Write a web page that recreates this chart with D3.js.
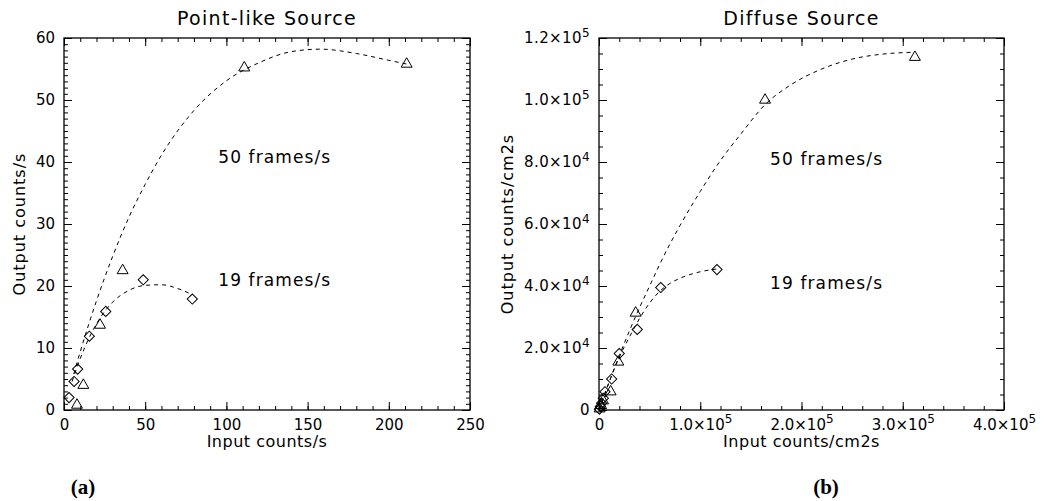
<!DOCTYPE html>
<html>
<head>
<meta charset="utf-8">
<script src="https://cdn.jsdelivr.net/npm/d3@7"></script>
<style>
  body { margin: 0; background: #fff; }
  text { font-family: "DejaVu Sans", sans-serif; fill: #000; }
</style>
</head>
<body>
<svg width="1041" height="501"></svg>
<script>
// ---- panel (a): point-like source, counts/s ----
const pointTri50 = [[8, 0.8], [11.9, 4.0], [22.2, 13.7], [36.1, 22.5], [111, 55.2], [211, 55.8]];
const pointDia19 = [[3.1, 2.0], [6.2, 4.6], [8.4, 6.6], [15.6, 11.9], [25.7, 15.9], [48.8, 21.0], [79, 17.9]];
// dashed fit curves
const pointFit50 = [[6, 5.8], [10, 9.4], [20, 17.6], [30, 24.8], [40, 31.1], [50, 36.4], [60, 41.1], [80, 48.3],
  [100, 53.1], [120, 56.0], [140, 57.8], [158, 58.2], [180, 57.5], [200, 56.4], [211, 55.8]];
const pointFit19 = [[5, 4.6], [10, 8.3], [20, 13.9], [30, 17.4], [40, 19.3], [50, 20.1], [60, 20.2], [70, 19.6], [79, 18.6]];
const pointXTicks = [0, 50, 100, 150, 200, 250];
const pointYTicks = [0, 10, 20, 30, 40, 50, 60];

// ---- panel (b): diffuse source, counts/cm2s ----
const diffTri50 = [[600, 400], [2000, 1500], [4000, 3000], [11500, 5900], [19100, 15500], [36200, 31300],
  [164000, 100000], [312000, 113800]];
const diffDia19 = [[400, 300], [1300, 1100], [2600, 2200], [4300, 3800], [5900, 5900], [12500, 10000],
  [20000, 18200], [37800, 26000], [61000, 39500], [116500, 45300]];
const diffFit50 = [[0, 0], [10000, 9000], [20000, 17500], [30000, 25500], [40000, 33000], [50000, 40000],
  [60000, 47000], [70000, 53500], [80000, 59500], [100000, 70500], [120000, 80500], [140000, 89000],
  [164000, 98500], [190000, 105000], [220000, 110000], [250000, 113200], [280000, 114800], [310000, 115400]];
const diffFit19 = [[0, 0], [10000, 9000], [20000, 17000], [30000, 23500], [40000, 29500], [50000, 34500],
  [60000, 38300], [70000, 40800], [80000, 42500], [90000, 43700], [100000, 44600], [110000, 45200], [116500, 45500]];
const diffXTicks = [0, 1e5, 2e5, 3e5, 4e5];
const diffYTicks = [0, 2e4, 4e4, 6e4, 8e4, 1e5, 1.2e5];

const svg = d3.select("svg");

// "1.0x10^5" style labels with a superscript exponent
function sciLabels(sel) {
  sel.selectAll(".tick text").each(function(d) {
    if (d === 0) return;
    const e = Math.floor(Math.log10(d) + 1e-9);
    const t = d3.select(this).text((d / 10 ** e).toFixed(1) + "\u00d710");
    t.append("tspan").attr("dy", "-0.55em").attr("font-size", 12).text(e);
  });
}

function drawPanel(p) {
  const x = d3.scaleLinear().domain(p.xDomain).range([p.left, p.right]);
  const y = d3.scaleLinear().domain(p.yDomain).range([p.bottom, p.top]);
  const g = svg.append("g");

  // minor ticks on all four sides, pointing inward
  const minorX = d3.range(p.xDomain[0], p.xDomain[1] + 1e-9, p.xMinorStep);
  const minorY = d3.range(p.yDomain[0], p.yDomain[1] + 1e-9, p.yMinorStep);
  g.append("g").attr("transform", `translate(0,${p.bottom})`)
    .call(d3.axisBottom(x).tickValues(minorX).tickSize(-4).tickFormat(""));
  g.append("g").attr("transform", `translate(0,${p.top})`)
    .call(d3.axisTop(x).tickValues(minorX).tickSize(-4).tickFormat(""));
  g.append("g").attr("transform", `translate(${p.left},0)`)
    .call(d3.axisLeft(y).tickValues(minorY).tickSize(-4).tickFormat(""));
  g.append("g").attr("transform", `translate(${p.right},0)`)
    .call(d3.axisRight(y).tickValues(minorY).tickSize(-4).tickFormat(""));

  // major ticks
  const xb = g.append("g").attr("transform", `translate(0,${p.bottom})`)
    .call(d3.axisBottom(x).tickValues(p.xTicks).tickSize(-8).tickPadding(9).tickFormat(d3.format("d")));
  g.append("g").attr("transform", `translate(0,${p.top})`)
    .call(d3.axisTop(x).tickValues(p.xTicks).tickSize(-8).tickFormat(""));
  const yl = g.append("g").attr("transform", `translate(${p.left},0)`)
    .call(d3.axisLeft(y).tickValues(p.yTicks).tickSize(-8).tickPadding(9).tickFormat(d3.format("d")));
  g.append("g").attr("transform", `translate(${p.right},0)`)
    .call(d3.axisRight(y).tickValues(p.yTicks).tickSize(-8).tickFormat(""));

  g.selectAll(".domain").remove();
  g.selectAll(".tick line").attr("stroke", "#000");
  g.selectAll(".tick text").attr("font-size", 15).attr("font-family", "DejaVu Sans").attr("fill", "#000");
  if (p.sci) {
    sciLabels(xb);
    sciLabels(yl);
    yl.selectAll(".tick text").attr("letter-spacing", 0.4);
  }

  // frame
  g.append("rect")
    .attr("x", p.left).attr("y", p.top)
    .attr("width", p.right - p.left).attr("height", p.bottom - p.top)
    .attr("fill", "none").attr("stroke", "#000").attr("stroke-width", 1.3);

  // fit curves
  const line = d3.line().x(d => x(d[0])).y(d => y(d[1])).curve(d3.curveMonotoneX);
  [p.fit50, p.fit19].forEach(f => {
    g.append("path").attr("d", line(f))
      .attr("fill", "none").attr("stroke", "#000").attr("stroke-width", 1)
      .attr("stroke-dasharray", "4,4");
  });

  // symbols
  const tri = d3.symbol().type(d3.symbolTriangle).size(52);
  const dia = d3.symbol().type(d3.symbolSquare).size(52);
  g.selectAll(".tri").data(p.tri).join("path").attr("class", "tri")
    .attr("d", tri).attr("transform", d => `translate(${x(d[0])},${y(d[1])})`)
    .attr("fill", "none").attr("stroke", "#000").attr("stroke-width", 1);
  g.selectAll(".dia").data(p.dia).join("path").attr("class", "dia")
    .attr("d", dia).attr("transform", d => `translate(${x(d[0])},${y(d[1])}) rotate(45)`)
    .attr("fill", "none").attr("stroke", "#000").attr("stroke-width", 1);

  // texts
  const cx = (p.left + p.right) / 2;
  g.append("text").attr("x", cx).attr("y", 25).attr("text-anchor", "middle")
    .attr("font-size", 19).attr("letter-spacing", 1.3).text(p.title);
  g.append("text").attr("x", cx).attr("y", 447).attr("text-anchor", "middle")
    .attr("font-size", 16).attr("letter-spacing", 0.5).text(p.xLabel);
  g.append("text").attr("transform", `translate(${p.yLabelX},${(p.top + p.bottom) / 2}) rotate(-90)`)
    .attr("text-anchor", "middle").attr("dy", "0.35em")
    .attr("font-size", 16).attr("letter-spacing", 1.0).text(p.yLabel);
  g.append("text").attr("x", x(p.note50[0])).attr("y", y(p.note50[1])).attr("dy", "0.35em")
    .attr("font-size", 17).attr("letter-spacing", 1.1).text("50 frames/s");
  g.append("text").attr("x", x(p.note19[0])).attr("y", y(p.note19[1])).attr("dy", "0.35em")
    .attr("font-size", 17).attr("letter-spacing", 1.1).text("19 frames/s");
  g.append("text").attr("x", p.tagX).attr("y", 494).attr("text-anchor", "middle")
    .style("font-family", "'Liberation Serif', serif").attr("font-weight", "bold").attr("font-size", 21)
    .text(p.tag);
}

drawPanel({
  left: 64, right: 470, top: 38, bottom: 410,
  xDomain: [0, 250], yDomain: [0, 60], xMinorStep: 10, yMinorStep: 1,
  xTicks: pointXTicks, yTicks: pointYTicks, sci: false,
  tri: pointTri50, dia: pointDia19, fit50: pointFit50, fit19: pointFit19,
  note50: [95, 40.8], note19: [95, 20.9],
  title: "Point-like Source", xLabel: "Input counts/s", yLabel: "Output counts/s", yLabelX: 19,
  tag: "(a)", tagX: 83
});

drawPanel({
  left: 599, right: 1004, top: 38, bottom: 410,
  xDomain: [0, 4e5], yDomain: [0, 1.2e5], xMinorStep: 2e4, yMinorStep: 5e3,
  xTicks: diffXTicks, yTicks: diffYTicks, sci: true,
  tri: diffTri50, dia: diffDia19, fit50: diffFit50, fit19: diffFit19,
  note50: [169000, 81000], note19: [169000, 41000],
  title: "Diffuse Source", xLabel: "Input counts/cm2s", yLabel: "Output counts/cm2s", yLabelX: 507,
  tag: "(b)", tagX: 826
});
</script>
</body>
</html>
